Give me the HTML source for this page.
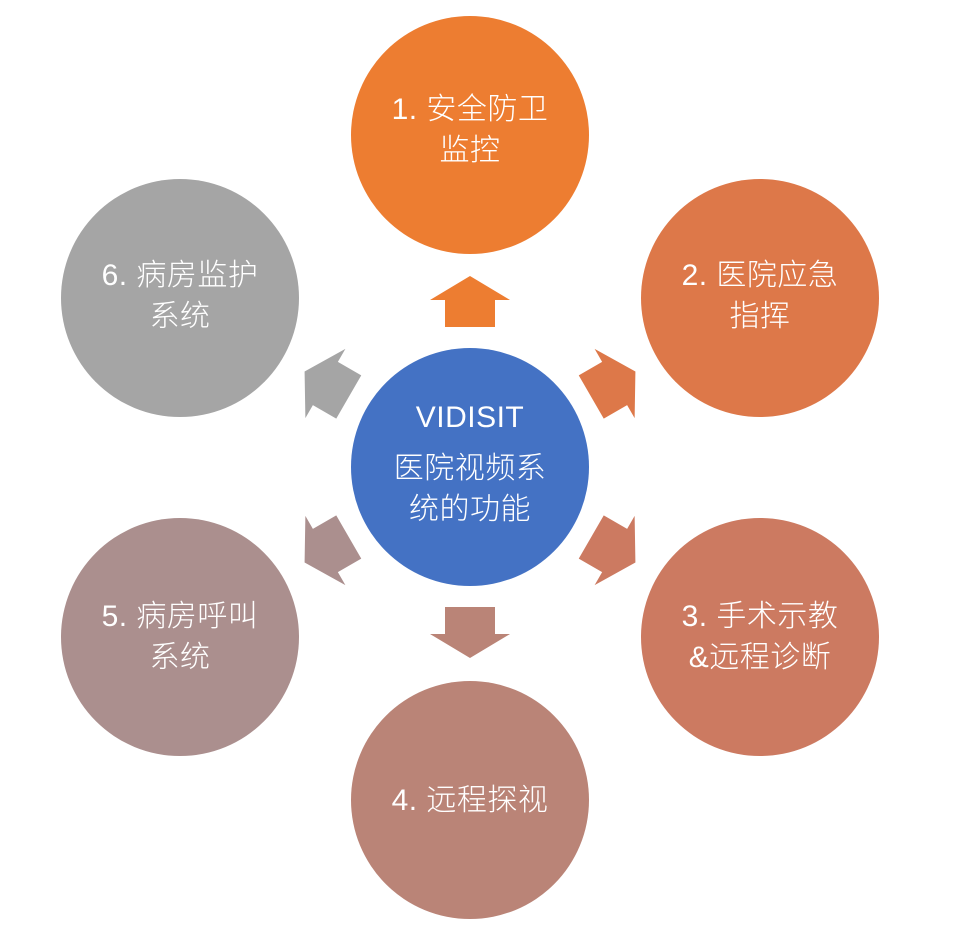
<!DOCTYPE html>
<html><head><meta charset="utf-8"><style>
html,body{margin:0;padding:0;background:#fff;}
body{width:955px;height:936px;position:relative;overflow:hidden;font-family:"Liberation Sans","Noto Sans CJK SC",sans-serif;}
.c{position:absolute;width:238px;height:238px;border-radius:50%;color:#fff;display:flex;flex-direction:column;align-items:center;justify-content:center;text-align:center;font-size:30px;line-height:41px;font-weight:300;letter-spacing:0.5px;}
</style></head><body>
<svg width="955" height="936" style="position:absolute;left:0;top:0">
<g transform="translate(470,467)">
<g transform="rotate(0) translate(0,-166)"><polygon points="0,-25 40,-1 25,-1 25,26 -25,26 -25,-1 -40,-1" fill="#ED7D31"/></g>
<g transform="rotate(60) translate(0,-166)"><polygon points="0,-25 40,-1 25,-1 25,26 -25,26 -25,-1 -40,-1" fill="#DD7849"/></g>
<g transform="rotate(120) translate(0,-166)"><polygon points="0,-25 40,-1 25,-1 25,26 -25,26 -25,-1 -40,-1" fill="#CC7A61"/></g>
<g transform="rotate(180) translate(0,-166)"><polygon points="0,-25 40,-1 25,-1 25,26 -25,26 -25,-1 -40,-1" fill="#BA8477"/></g>
<g transform="rotate(240) translate(0,-166)"><polygon points="0,-25 40,-1 25,-1 25,26 -25,26 -25,-1 -40,-1" fill="#AB8F8E"/></g>
<g transform="rotate(300) translate(0,-166)"><polygon points="0,-25 40,-1 25,-1 25,26 -25,26 -25,-1 -40,-1" fill="#A5A5A5"/></g>
</g>
</svg>
<div class="c" style="left:351px;top:16px;background:#ED7D31;padding-bottom:10px;box-sizing:border-box">1. 安全防卫<br>监控</div>
<div class="c" style="left:641px;top:179px;background:#DD7849;box-sizing:border-box;padding-bottom:4px">2. 医院应急<br>指挥</div>
<div class="c" style="left:641px;top:518px;background:#CC7A61;">3. 手术示教<br>&amp;远程诊断</div>
<div class="c" style="left:351px;top:681px;background:#BA8477;">4. 远程探视</div>
<div class="c" style="left:61px;top:518px;background:#AB8F8E;">5. 病房呼叫<br>系统</div>
<div class="c" style="left:61px;top:179px;background:#A5A5A5;box-sizing:border-box;padding-bottom:4px">6. 病房监护<br>系统</div>
<div class="c" style="left:351px;top:348px;background:#4472C4;box-sizing:border-box;padding-bottom:8px"><div style="margin-bottom:10px">VIDISIT</div>医院视频系<br>统的功能</div>
</body></html>
